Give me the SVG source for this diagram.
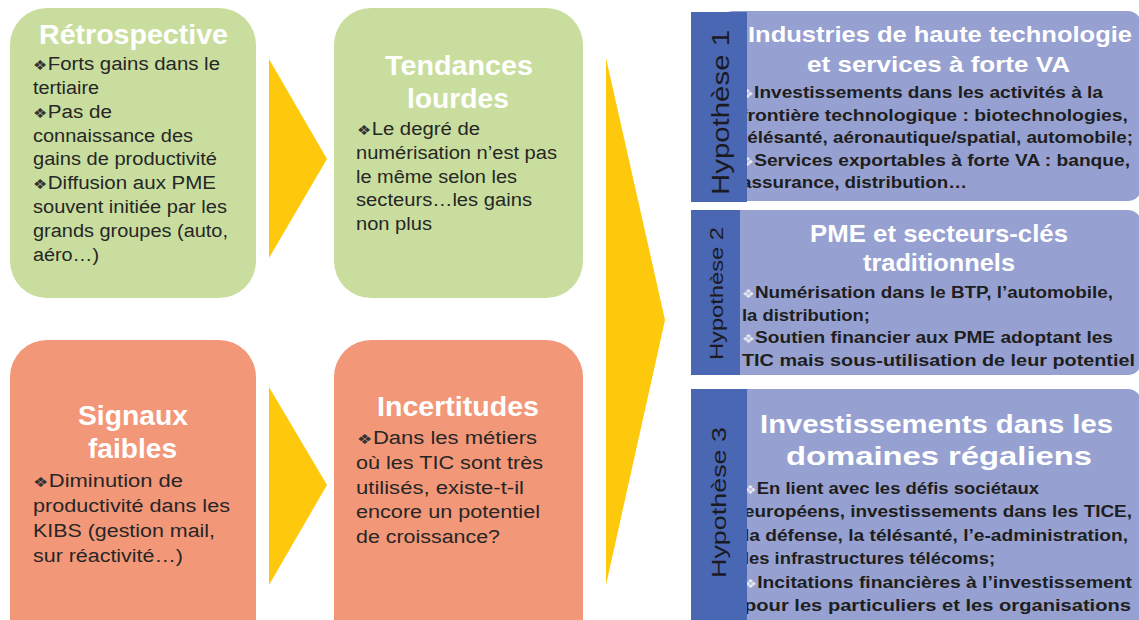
<svg xmlns="http://www.w3.org/2000/svg" width="1139" height="620" viewBox="0 0 1139 620">
  <style>
    text { font-family: "Liberation Sans", Arial, sans-serif; }
    .green { fill: #c9de9e; }
    .salmon { fill: #f39779; }
    .chev { fill: #fec90c; }
    .hbox { fill: #97a1d1; }
    .tab { fill: #4a67b3; }
    .ttl { fill: #ffffff; font-weight: bold; font-size: 28px; }
    .body { fill: #262626; font-size: 18px; }
    .htl { fill: #ffffff; font-weight: bold; }
    .hb { fill: #1e1e1e; font-size: 16px; font-weight: bold; }
    .b { font-size: 14px; fill: #333333; }
    .hbul { font-size: 12px; fill: #e8e8f0; font-weight: normal; }
    .lab { fill: #1a1a22; }
  </style>

  <!-- flow chevrons -->
  <g id="connectors">
    <polygon class="chev" points="269,59 327,159 269,258"/>
    <polygon class="chev" points="269,387 327,485 269,585"/>
    <polygon class="chev" points="606,58 665,320 606,585"/>
  </g>

  <g id="retrospective">
    <rect class="green" x="10" y="8" width="246" height="290" rx="37"/>
    <text class="ttl" x="39" y="43.5" font-size="24" textLength="189" lengthAdjust="spacingAndGlyphs">Rétrospective</text>
    <g class="body">
      <text x="33" y="70" textLength="187" lengthAdjust="spacingAndGlyphs"><tspan class="b">❖</tspan>Forts gains dans le</text>
      <text x="33" y="94" textLength="66" lengthAdjust="spacingAndGlyphs">tertiaire</text>
      <text x="33" y="117.5" textLength="79" lengthAdjust="spacingAndGlyphs"><tspan class="b">❖</tspan>Pas de</text>
      <text x="33" y="141.5" textLength="160" lengthAdjust="spacingAndGlyphs">connaissance des</text>
      <text x="33" y="165" textLength="184" lengthAdjust="spacingAndGlyphs">gains de productivité</text>
      <text x="33" y="189" textLength="183" lengthAdjust="spacingAndGlyphs"><tspan class="b">❖</tspan>Diffusion aux PME</text>
      <text x="33" y="213" textLength="194" lengthAdjust="spacingAndGlyphs">souvent initiée par les</text>
      <text x="33" y="237" textLength="195" lengthAdjust="spacingAndGlyphs">grands groupes (auto,</text>
      <text x="33" y="261" textLength="66" lengthAdjust="spacingAndGlyphs">aéro…)</text>
    </g>
  </g>

  <g id="tendances">
    <rect class="green" x="334" y="8" width="249" height="290" rx="37"/>
    <text class="ttl" x="385" y="75" textLength="148" lengthAdjust="spacingAndGlyphs">Tendances</text>
    <text class="ttl" x="407" y="108" textLength="102" lengthAdjust="spacingAndGlyphs">lourdes</text>
    <g class="body">
      <text x="357" y="135" textLength="123" lengthAdjust="spacingAndGlyphs"><tspan class="b">❖</tspan>Le degré de</text>
      <text x="356" y="158.8" textLength="201" lengthAdjust="spacingAndGlyphs">numérisation n’est pas</text>
      <text x="356" y="182.6" textLength="161" lengthAdjust="spacingAndGlyphs">le même selon les</text>
      <text x="356" y="206.4" textLength="176" lengthAdjust="spacingAndGlyphs">secteurs…les gains</text>
      <text x="356" y="230.2" textLength="76" lengthAdjust="spacingAndGlyphs">non plus</text>
    </g>
  </g>

  <g id="signaux">
    <rect class="salmon" x="10" y="340" width="246" height="320" rx="37"/>
    <text class="ttl" x="78" y="425" textLength="110" lengthAdjust="spacingAndGlyphs">Signaux</text>
    <text class="ttl" x="88" y="458" textLength="89" lengthAdjust="spacingAndGlyphs">faibles</text>
    <g class="body">
      <text x="33" y="487" textLength="150" lengthAdjust="spacingAndGlyphs"><tspan class="b">❖</tspan>Diminution de</text>
      <text x="33" y="512" textLength="197" lengthAdjust="spacingAndGlyphs">productivité dans les</text>
      <text x="33" y="537" textLength="182" lengthAdjust="spacingAndGlyphs">KIBS (gestion mail,</text>
      <text x="33" y="562" textLength="150" lengthAdjust="spacingAndGlyphs">sur réactivité…)</text>
    </g>
  </g>

  <g id="incertitudes">
    <rect class="salmon" x="334" y="340" width="249" height="320" rx="37"/>
    <text class="ttl" x="377" y="416" textLength="162" lengthAdjust="spacingAndGlyphs">Incertitudes</text>
    <g class="body">
      <text x="357" y="444" textLength="180" lengthAdjust="spacingAndGlyphs"><tspan class="b">❖</tspan>Dans les métiers</text>
      <text x="356" y="468.8" textLength="187" lengthAdjust="spacingAndGlyphs">où les TIC sont très</text>
      <text x="356" y="493.6" textLength="168" lengthAdjust="spacingAndGlyphs">utilisés, existe-t-il</text>
      <text x="356" y="518.4" textLength="184" lengthAdjust="spacingAndGlyphs">encore un potentiel</text>
      <text x="356" y="543.2" textLength="144" lengthAdjust="spacingAndGlyphs">de croissance?</text>
    </g>
  </g>

  <g id="hypothese-1">
    <rect class="hbox" x="720" y="11" width="421" height="190" rx="13"/>
    <text class="htl" x="748" y="42" font-size="22" textLength="384" lengthAdjust="spacingAndGlyphs">Industries de haute technologie</text>
    <text class="htl" x="807" y="72" font-size="22" textLength="263" lengthAdjust="spacingAndGlyphs">et services à forte VA</text>
    <g class="hb">
      <text x="741" y="98" textLength="362" lengthAdjust="spacingAndGlyphs"><tspan class="hbul">❖</tspan>Investissements dans les activités à la</text>
      <text x="741" y="120.5" textLength="387" lengthAdjust="spacingAndGlyphs">frontière technologique : biotechnologies,</text>
      <text x="741" y="143" textLength="392" lengthAdjust="spacingAndGlyphs">télésanté, aéronautique/spatial, automobile;</text>
      <text x="741" y="165.5" textLength="389" lengthAdjust="spacingAndGlyphs"><tspan class="hbul">❖</tspan>Services exportables à forte VA : banque,</text>
      <text x="741" y="188" textLength="226" lengthAdjust="spacingAndGlyphs">assurance, distribution…</text>
    </g>
    <rect class="tab" x="691" y="12" width="56" height="190"/>
    <text class="lab" transform="translate(729,112.5) rotate(-90)" text-anchor="middle" font-size="23" textLength="165" lengthAdjust="spacingAndGlyphs">Hypothèse 1</text>
  </g>

  <g id="hypothese-2">
    <rect class="hbox" x="720" y="210" width="421" height="165" rx="13"/>
    <text class="htl" x="810" y="242" font-size="24" textLength="258" lengthAdjust="spacingAndGlyphs">PME et secteurs-clés</text>
    <text class="htl" x="863" y="271" font-size="24" textLength="152" lengthAdjust="spacingAndGlyphs">traditionnels</text>
    <g class="hb">
      <text x="742" y="297.5" textLength="371" lengthAdjust="spacingAndGlyphs"><tspan class="hbul">❖</tspan>Numérisation dans le BTP, l’automobile,</text>
      <text x="742" y="320.5" textLength="128" lengthAdjust="spacingAndGlyphs">la distribution;</text>
      <text x="742" y="343" textLength="371" lengthAdjust="spacingAndGlyphs"><tspan class="hbul">❖</tspan>Soutien financier aux PME adoptant les</text>
      <text x="742" y="366" textLength="393" lengthAdjust="spacingAndGlyphs">TIC mais sous-utilisation de leur potentiel</text>
    </g>
    <rect class="tab" x="691" y="210" width="49" height="165"/>
    <text class="lab" transform="translate(723,293.5) rotate(-90)" text-anchor="middle" font-size="18" textLength="133" lengthAdjust="spacingAndGlyphs">Hypothèse 2</text>
  </g>

  <g id="hypothese-3">
    <rect class="hbox" x="720" y="389" width="421" height="260" rx="13"/>
    <text class="htl" x="760" y="433" font-size="26" textLength="353" lengthAdjust="spacingAndGlyphs">Investissements dans les</text>
    <text class="htl" x="786" y="465" font-size="26" textLength="306" lengthAdjust="spacingAndGlyphs">domaines régaliens</text>
    <g class="hb">
      <text x="744" y="494" textLength="295" lengthAdjust="spacingAndGlyphs"><tspan class="hbul">❖</tspan>En lient avec les défis sociétaux</text>
      <text x="744" y="517.4" textLength="388" lengthAdjust="spacingAndGlyphs">européens, investissements dans les TICE,</text>
      <text x="744" y="540.8" textLength="384" lengthAdjust="spacingAndGlyphs">la défense, la télésanté, l’e-administration,</text>
      <text x="744" y="564.2" textLength="251" lengthAdjust="spacingAndGlyphs">les infrastructures télécoms;</text>
      <text x="744" y="587.6" textLength="388" lengthAdjust="spacingAndGlyphs"><tspan class="hbul">❖</tspan>Incitations financières à l’investissement</text>
      <text x="744" y="611" textLength="387" lengthAdjust="spacingAndGlyphs">pour les particuliers et les organisations</text>
    </g>
    <rect class="tab" x="691" y="389" width="56" height="240"/>
    <text class="lab" transform="translate(726,502.5) rotate(-90)" text-anchor="middle" font-size="21" textLength="151" lengthAdjust="spacingAndGlyphs">Hypothèse 3</text>
  </g>
</svg>
